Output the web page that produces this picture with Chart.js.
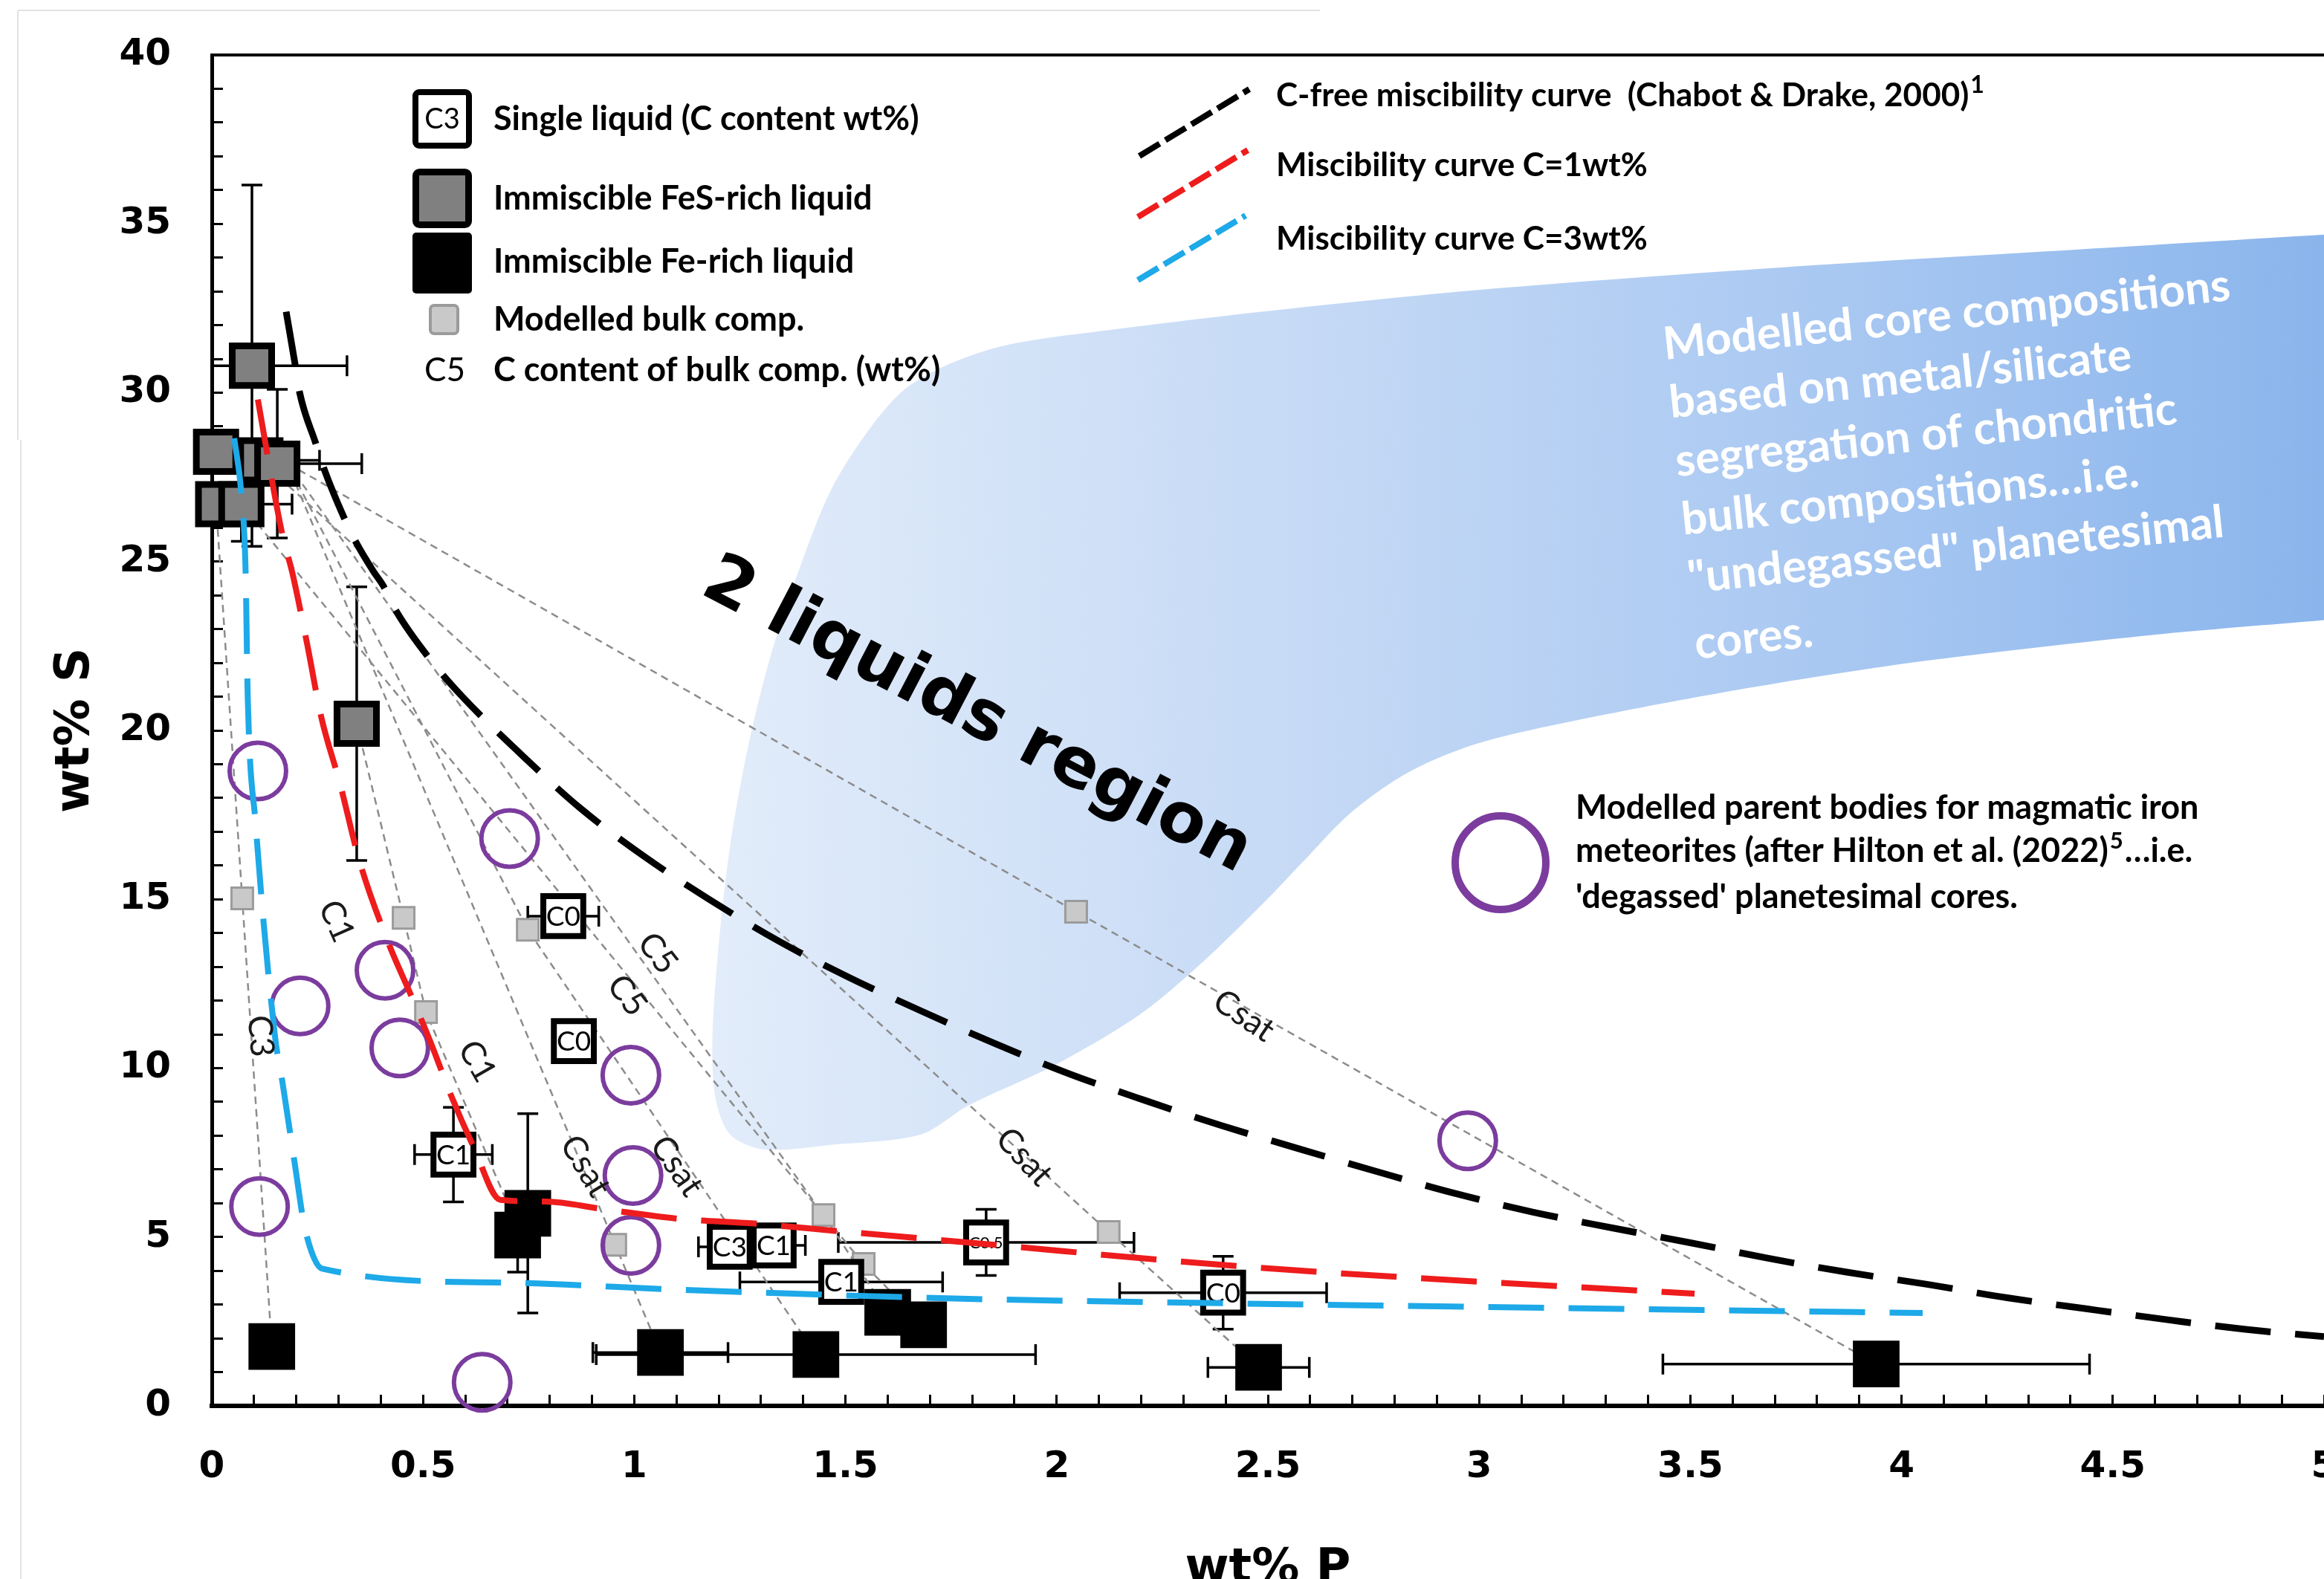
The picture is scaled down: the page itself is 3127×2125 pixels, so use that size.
<!DOCTYPE html>
<html>
<head>
<meta charset="utf-8">
<script src="https://cdn.jsdelivr.net/npm/chart.js@4.4.1/dist/chart.umd.min.js"></script>
<style>
html,body{margin:0;padding:0;background:#fff;overflow:hidden}
canvas{display:block}
</style>
</head>
<body>
<canvas id="c" width="3127" height="2125" style="width:3127px;height:2125px"></canvas>
<script>
// ---------------- DATA ----------------
const yTickLabels = ['0','5','10','15','20','25','30','35','40'];
const xTickLabels = ['0','0.5','1','1.5','2','2.5','3','3.5','4','4.5','5'];

// Immiscible FeS-rich liquid (grey squares)
const fesX    = [0.095, 0.01, 0.115, 0.155, 0.015, 0.07, 0.343];
const fesY    = [30.8, 28.25, 28.0, 27.9, 26.7, 26.7, 20.2];
const fesXerr = [0.225, 0, 0.14, 0.2, 0, 0.12, 0];
const fesYerr = [5.35, 0, 0, 2.2, 0, 1.1, 4.05];

// Immiscible Fe-rich liquid (black squares)
const feX    = [0.142, 0.748, 0.724, 1.062, 1.43, 1.6, 1.685, 2.478, 3.94];
const feY    = [1.76, 5.7, 5.06, 1.58, 1.52, 2.77, 2.4, 1.14, 1.24];
const feXerr = [0, 0, 0, 0.16, 0.52, 0, 0, 0.12, 0.505];
const feYerr = [0, 2.95, 1.1, 0, 0, 0, 0, 0, 0];

// Single liquid (white squares) with C content labels
const singleX    = [0.832, 0.857, 0.572, 1.226, 1.33, 1.49, 1.833, 2.394];
const singleY    = [14.5, 10.8, 7.44, 4.71, 4.75, 3.67, 4.84, 3.35];
const singleC    = ['C0', 'C0', 'C1', 'C3', 'C1', 'C1', 'C0.5', 'C0'];
const singleXerr = [0.084, 0, 0.092, 0.074, 0.075, 0.24, 0.35, 0.245];
const singleYerr = [0, 0, 1.4, 0, 0, 0, 0.98, 1.08];

// Modelled bulk compositions (small light-grey squares)
const bulkX = [0.072, 0.454, 0.748, 0.507, 0.955, 1.448, 1.543, 2.123, 2.046];
const bulkY = [15.03, 14.45, 14.1, 11.66, 4.77, 5.65, 4.2, 5.15, 14.63];

// Modelled parent bodies (purple circles)
const parentX = [0.109, 0.705, 0.209, 0.41, 0.445, 0.992, 0.997, 0.992, 0.113, 0.64, 2.973];
const parentY = [18.8, 16.8, 11.84, 12.9, 10.6, 9.79, 6.82, 4.75, 5.9, 0.7, 7.85];

// Miscibility curves
const blackX = [0.176,0.197,0.208,0.246,0.267,0.313,0.34,0.383,0.405,0.438,0.517,0.593,0.723,0.872,1.02,1.177,1.344,1.506,1.678,1.859,2.03,2.21,2.39,2.577,2.76,2.94,3.126,3.315,3.5,3.68,3.87,4.06,4.25,4.44,4.63,4.81,5.0];
const blackY = [32.4,30.85,30.0,28.5,27.7,26.3,25.6,24.7,24.3,23.5,22.1,21.0,19.4,17.7,16.3,15.0,13.75,12.7,11.7,10.7,9.83,9.04,8.3,7.6,6.93,6.3,5.74,5.27,4.83,4.38,3.96,3.6,3.2,2.87,2.55,2.27,2.05];
const redX = [0.109,0.132,0.167,0.19,0.225,0.259,0.304,0.348,0.415,0.477,0.52,0.566,0.62,0.683,0.79,0.925,1.105,1.284,1.486,1.87,2.24,2.63,3.51];
const redY = [29.8,28.14,25.8,24.7,22.6,20.4,18.4,16.2,13.8,12.0,10.7,9.2,7.66,6.1,6.05,5.83,5.54,5.4,5.17,4.75,4.33,3.96,3.32];
const blueX = [0.053,0.07,0.08,0.085,0.104,0.15,0.167,0.199,0.216,0.235,0.26,0.683,1.122,1.79,2.39,4.05];
const blueY = [28.65,27.0,24.7,21.0,17.2,10.9,9.6,6.95,5.54,4.6,4.07,3.65,3.43,3.17,3.04,2.75];

// Outline of the "modelled core compositions" field
const regionX = [5.0,4.418,3.715,3.012,2.485,2.134,1.888,1.747,1.641,1.554,1.466,1.395,1.325,1.272,1.227,1.199,1.185,1.192,1.227,1.308,1.466,1.677,1.793,1.997,2.197,2.348,2.503,2.58,2.696,2.837,3.012,3.364,3.715,4.067,4.594,5.0];
const regionY = [34.68,34.24,33.71,33.06,32.4,31.87,31.43,30.86,30.11,28.88,27.13,24.93,22.3,19.67,16.59,13.52,10.89,9.13,8.03,7.59,7.73,8.03,8.91,10.1,11.59,13.17,15.06,16.07,17.56,18.79,19.67,20.63,21.42,22.08,22.83,23.27];

// Tie lines (FeS-rich liquid -> bulk -> Fe-rich liquid)
const tieX = [[0.01,0.072,0.142],[0.18,2.046,3.94],[0.115,2.123,2.478],[0.18,1.448,1.6],[0.07,1.543,1.685],[0.175,0.955,1.062],[0.175,0.748,1.43],[0.343,0.454,0.507,0.71]];
const tieY = [[26.7,15.03,1.76],[27.9,14.63,1.24],[28.0,5.15,1.14],[27.9,5.65,2.77],[26.7,4.2,2.4],[28.0,4.77,1.58],[28.0,14.1,1.52],[20.2,14.45,11.66,5.7]];

// Tie-line carbon labels
const tieLabelText = ['C3','C1','C1','C5','C5','Csat','Csat','Csat','Csat'];
const tieLabelX    = [0.115,0.295,0.628,1.055,0.983,0.884,1.10,1.923,2.443];
const tieLabelY    = [10.95,14.35,10.2,13.4,12.15,7.1,7.1,7.37,11.55];
const tieLabelRot  = [85,66,60,52,52,59,55,47,34];

// ---------------- STYLE ----------------
const PURPLE = '#7b3c9e';
const pts = (X, Y) => X.map((x, i) => ({x: x, y: Y[i]}));

function regionFill(c) {
  const ch = c.chart;
  if (!ch.chartArea) return '#c4d9f5';
  const xs = ch.scales.x;
  const g = ch.ctx.createLinearGradient(xs.getPixelForValue(1.15), 0, xs.getPixelForValue(5), 0);
  g.addColorStop(0, '#e3edfa');
  g.addColorStop(0.4, '#c3d8f5');
  g.addColorStop(0.75, '#a4c5f1');
  g.addColorStop(1, '#8ab5ec');
  return g;
}

function drawErrors(ctx, xs, ys, X, Y, EX, EY) {
  const cap = 14;
  ctx.save();
  ctx.strokeStyle = '#000';
  ctx.lineWidth = 3.5;
  for (let i = 0; i < X.length; i++) {
    const px = xs.getPixelForValue(X[i]), py = ys.getPixelForValue(Y[i]);
    if (EX[i]) {
      const a = xs.getPixelForValue(X[i] - EX[i]), b = xs.getPixelForValue(X[i] + EX[i]);
      ctx.beginPath(); ctx.moveTo(a, py); ctx.lineTo(b, py);
      ctx.moveTo(a, py - cap); ctx.lineTo(a, py + cap);
      ctx.moveTo(b, py - cap); ctx.lineTo(b, py + cap);
      ctx.stroke();
    }
    if (EY[i]) {
      const a = ys.getPixelForValue(Y[i] - EY[i]), b = ys.getPixelForValue(Y[i] + EY[i]);
      ctx.beginPath(); ctx.moveTo(px, a); ctx.lineTo(px, b);
      ctx.moveTo(px - cap, a); ctx.lineTo(px + cap, a);
      ctx.moveTo(px - cap, b); ctx.lineTo(px + cap, b);
      ctx.stroke();
    }
  }
  ctx.restore();
}

function txt(ctx, s, x, y, font, color, align, baseline, rot) {
  ctx.save();
  ctx.translate(x, y);
  if (rot) ctx.rotate(rot * Math.PI / 180);
  ctx.font = font; ctx.fillStyle = color;
  ctx.textAlign = align || 'left'; ctx.textBaseline = baseline || 'alphabetic';
  ctx.fillText(s, 0, 0);
  ctx.restore();
}
function txtSup(ctx, s, sup, after, x, y, font, supFont) {
  ctx.save();
  ctx.font = font; ctx.fillStyle = '#000'; ctx.textAlign = 'left'; ctx.textBaseline = 'alphabetic';
  ctx.fillText(s, x, y);
  let w = ctx.measureText(s).width;
  ctx.font = supFont;
  ctx.fillText(sup, x + w + 2, y - 18);
  const ws = ctx.measureText(sup).width;
  if (after) { ctx.font = font; ctx.fillText(after, x + w + ws + 4, y); }
  ctx.restore();
}
function box(ctx, x0, y0, x1, y1, fill, stroke, lw) {
  ctx.save();
  ctx.beginPath();
  const h = lw / 2;
  ctx.roundRect(x0 + h, y0 + h, x1 - x0 - lw, y1 - y0 - lw, 5);
  ctx.fillStyle = fill; ctx.fill();
  if (lw) { ctx.lineWidth = lw; ctx.strokeStyle = stroke; ctx.stroke(); }
  ctx.restore();
}
function dashSeg(ctx, x0, y0, x1, y1, color) {
  ctx.save();
  ctx.strokeStyle = color; ctx.lineWidth = 8; ctx.setLineDash([32, 9]);
  ctx.beginPath(); ctx.moveTo(x0, y0); ctx.lineTo(x1, y1); ctx.stroke();
  ctx.restore();
}

const decor = {
  id: 'decor',
  beforeDraw(chart) {
    const ctx = chart.ctx;
    ctx.save();
    ctx.strokeStyle = '#e2e2e2'; ctx.lineWidth = 2;
    ctx.beginPath();
    ctx.moveTo(24, 14); ctx.lineTo(1776, 14);
    ctx.moveTo(24, 14); ctx.lineTo(24, 592);
    ctx.moveTo(28, 592); ctx.lineTo(28, 2125);
    ctx.stroke();
    ctx.restore();
  },
  beforeDatasetsDraw(chart) {
    const ctx = chart.ctx, xs = chart.scales.x, ys = chart.scales.y, a = chart.chartArea;
    ctx.save();
    ctx.beginPath(); ctx.rect(a.left, a.top, a.right - a.left, a.bottom - a.top); ctx.clip();
    drawErrors(ctx, xs, ys, fesX, fesY, fesXerr, fesYerr);
    drawErrors(ctx, xs, ys, feX, feY, feXerr, feYerr);
    drawErrors(ctx, xs, ys, singleX, singleY, singleXerr, singleYerr);
    ctx.restore();
  },
  afterDatasetDraw(chart, args) {
    const ds = chart.data.datasets[args.index];
    if (ds.label !== 'single') return;
    const ctx = chart.ctx, xs = chart.scales.x, ys = chart.scales.y;
    for (let i = 0; i < singleX.length; i++) {
      const small = singleC[i].length > 2;
      txt(ctx, singleC[i], xs.getPixelForValue(singleX[i]), ys.getPixelForValue(singleY[i]) + 1,
          (small ? '22px' : '37px') + ' Lato', '#000', 'center', 'middle', 0);
    }
  },
  afterDatasetsDraw(chart) {
    const ctx = chart.ctx, xs = chart.scales.x, ys = chart.scales.y;
    // white text in the blue field
    const lines = ['Modelled core compositions', 'based on metal/silicate', 'segregation of chondritic',
                   'bulk compositions\u2026i.e.', '"undegassed" planetesimal', 'cores.'];
    ctx.save();
    ctx.translate(2240, 484);
    ctx.rotate(-6 * Math.PI / 180);
    ctx.font = 'bold 61px Lato'; ctx.fillStyle = '#ffffff'; ctx.textBaseline = 'alphabetic';
    lines.forEach((s, i) => ctx.fillText(s, 0, i * 79 + (i === 5 ? 10 : 0)));
    ctx.restore();

    // "2 liquids region"
    txt(ctx, '2 liquids region', xs.getPixelForValue(1.81), ys.getPixelForValue(20.4),
        'bold 93px "DejaVu Sans"', '#000', 'center', 'middle', 27.5);

    // tie-line labels
    for (let i = 0; i < tieLabelText.length; i++) {
      txt(ctx, tieLabelText[i], xs.getPixelForValue(tieLabelX[i]), ys.getPixelForValue(tieLabelY[i]),
          '45px Lato', '#1a1a1a', 'center', 'middle', tieLabelRot[i]);
    }

    // legend (top-left)
    box(ctx, 555, 120, 635, 200, '#ffffff', '#000', 8);
    txt(ctx, 'C3', 595, 161, '38px Lato', '#000', 'center', 'middle', 0);
    box(ctx, 555, 227, 635, 307, '#808080', '#000', 9);
    box(ctx, 555, 313, 635, 395, '#000000', '#000', 0);
    box(ctx, 577, 409, 618, 451, '#c9c9c9', '#9b9b9b', 4);
    txt(ctx, 'C5', 571, 513, '44px Lato', '#000', 'left', 'alphabetic', 0);
    const lf = 'bold 45px Lato';
    txt(ctx, 'Single liquid (C content wt%)', 664, 175, lf, '#000');
    txt(ctx, 'Immiscible FeS-rich liquid', 664, 282, lf, '#000');
    txt(ctx, 'Immiscible Fe-rich liquid', 664, 367, lf, '#000');
    txt(ctx, 'Modelled bulk comp.', 664, 445, lf, '#000');
    txt(ctx, 'C content of bulk comp. (wt%)', 664, 513, lf, '#000');

    // legend (top-right)
    const rf = 'bold 44px Lato';
    dashSeg(ctx, 1533, 210, 1681, 120, '#000000');
    dashSeg(ctx, 1531, 292, 1679, 202, '#ee1c1c');
    dashSeg(ctx, 1531, 377, 1676, 290, '#1ea9e8');
    txtSup(ctx, 'C-free miscibility curve  (Chabot & Drake, 2000)', '1', '', 1717, 143, rf, 'bold 32px Lato');
    txt(ctx, 'Miscibility curve C=1wt%', 1717, 237, rf, '#000');
    txt(ctx, 'Miscibility curve C=3wt%', 1717, 336, rf, '#000');

    // legend (purple circle)
    ctx.save();
    ctx.strokeStyle = PURPLE; ctx.lineWidth = 10;
    ctx.beginPath(); ctx.ellipse(2019, 1161, 61, 63, 0, 0, Math.PI * 2); ctx.stroke();
    ctx.restore();
    const pf = 'bold 45px Lato';
    txt(ctx, 'Modelled parent bodies for magmatic iron', 2120, 1102, pf, '#000');
    txtSup(ctx, 'meteorites (after Hilton et al. (2022)', '5', '\u2026i.e.', 2120, 1160, pf, 'bold 31px Lato');
    txt(ctx, "'degassed' planetesimal cores.", 2120, 1222, pf, '#000');
  }
};

const datasets = [
  {label: 'region', data: pts(regionX, regionY), showLine: true, fill: 'shape', tension: 0.3,
   pointRadius: 0, borderWidth: 0, borderColor: 'rgba(0,0,0,0)', backgroundColor: regionFill, order: 100}
];
tieX.forEach((X, k) => datasets.push({
  label: 'tie' + k, data: pts(X, tieY[k]), showLine: true, pointRadius: 0, fill: false,
  borderColor: '#8c8c8c', borderWidth: 2.5, borderDash: [10, 7], order: 90
}));
datasets.push(
  {label: 'bulk', data: pts(bulkX, bulkY), pointStyle: 'rect', pointRadius: 20.5,
   pointBackgroundColor: '#c9c9c9', pointBorderColor: '#9b9b9b', pointBorderWidth: 3, clip: false, order: 80},
  {label: 'parent', data: pts(parentX, parentY), pointStyle: 'circle', pointRadius: 38,
   pointBackgroundColor: 'rgba(0,0,0,0)', pointBorderColor: PURPLE, pointBorderWidth: 6, clip: false, order: 70},
  {label: 'fes', data: pts(fesX, fesY), pointStyle: 'rect', pointRadius: 37.5,
   pointBackgroundColor: '#808080', pointBorderColor: '#000', pointBorderWidth: 9, clip: false, order: 60},
  {label: 'fe', data: pts(feX, feY), pointStyle: 'rect', pointRadius: 38,
   pointBackgroundColor: '#000', pointBorderColor: '#000', pointBorderWidth: 9, clip: false, order: 50},
  {label: 'single', data: pts(singleX, singleY), pointStyle: 'rect', pointRadius: 38,
   pointBackgroundColor: '#fff', pointBorderColor: '#000', pointBorderWidth: 8, clip: false, order: 40},
  {label: 'blue', data: pts(blueX, blueY), showLine: true, pointRadius: 0, fill: false,
   borderColor: '#1ea9e8', borderWidth: 8, borderDash: [75, 33], cubicInterpolationMode: 'monotone', order: 12},
  {label: 'red', data: pts(redX, redY), showLine: true, pointRadius: 0, fill: false,
   borderColor: '#ee1c1c', borderWidth: 8, borderDash: [75, 33], cubicInterpolationMode: 'monotone', order: 11},
  {label: 'black', data: pts(blackX, blackY), showLine: true, pointRadius: 0, fill: false,
   borderColor: '#000', borderWidth: 9, borderDash: [75, 33], cubicInterpolationMode: 'monotone', order: 10}
);

const tickFont = {family: 'DejaVu Sans', weight: 'bold', size: 50};
new Chart(document.getElementById('c'), {
  type: 'scatter',
  data: {datasets: datasets},
  plugins: [decor],
  options: {
    responsive: false, animation: false, devicePixelRatio: 1, events: [],
    layout: {autoPadding: false, padding: {top: 74, left: 0, right: 0, bottom: 0}},
    plugins: {legend: {display: false}, tooltip: {enabled: false}},
    scales: {
      x: {
        type: 'linear', position: 'bottom', min: 0, max: 5,
        ticks: {stepSize: 0.1, autoSkip: false, maxRotation: 0, minRotation: 0, padding: 68, color: '#000', font: tickFont,
                callback: (v) => { const k = Math.round(v * 2); return Math.abs(v * 2 - k) < 1e-6 ? xTickLabels[k] : ''; }},
        grid: {drawOnChartArea: false, drawTicks: true, tickLength: -15, tickWidth: 3, tickColor: '#000'},
        border: {display: true, color: '#000', width: 6},
        title: {display: true, text: 'wt% P', color: '#000', padding: 0,
                font: {family: 'DejaVu Sans', weight: 'bold', size: 64, lineHeight: 0.4}},
        afterFit: (s) => { s.height = 233; s.paddingLeft = 0; s.paddingRight = 0; }
      },
      x2: {
        type: 'linear', position: 'top', min: 0, max: 5,
        ticks: {display: false},
        grid: {drawOnChartArea: false, drawTicks: false},
        border: {display: true, color: '#000', width: 4},
        afterFit: (s) => { s.height = 0; s.paddingLeft = 0; s.paddingRight = 0; }
      },
      y: {
        type: 'linear', position: 'left', min: 0, max: 40,
        ticks: {stepSize: 1, autoSkip: false, padding: 70, color: '#000', font: tickFont,
                callback: (v) => (v % 5 === 0 ? yTickLabels[v / 5] : '')},
        grid: {drawOnChartArea: false, drawTicks: true, tickLength: -15, tickWidth: 3, tickColor: '#000'},
        border: {display: true, color: '#000', width: 5},
        title: {display: true, text: 'wt% S', color: '#000', padding: {top: 64, bottom: 0},
                font: {family: 'DejaVu Sans', weight: 'bold', size: 64}},
        afterFit: (s) => { s.width = 285; s.paddingTop = 0; s.paddingBottom = 0; }
      }
    }
  }
});
</script>
</body>
</html>
